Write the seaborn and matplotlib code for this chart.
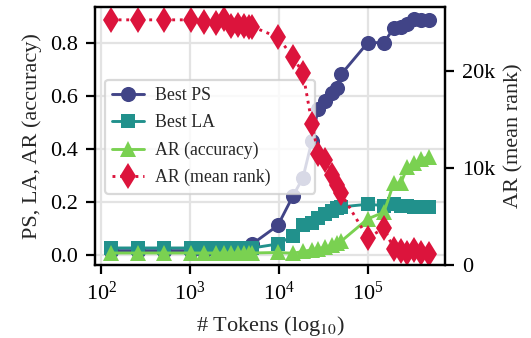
import numpy as np
import pandas as pd
import matplotlib
matplotlib.use("Agg")
import matplotlib.pyplot as plt
import seaborn as sns
from matplotlib.ticker import FuncFormatter, MultipleLocator, NullLocator

# ---------------- data ----------------
tokens = [128, 256, 512, 1024, 1430, 1950, 2400, 2880, 3470, 4060, 4600, 5000,
          9700, 14300, 18600, 23500, 27500, 33000, 39600, 45000, 50000,
          100000, 152000, 196000, 235000, 280000, 328000, 396000, 490000]

best_ps = [0.015, 0.015, 0.015, 0.015, 0.015, 0.015, 0.015, 0.015, 0.015, 0.015, 0.02, 0.04,
           0.11, 0.22, 0.29, 0.43, 0.55, 0.58, 0.61, 0.63, 0.68,
           0.80, 0.80, 0.855, 0.86, 0.87, 0.89, 0.887, 0.887]

best_la = [0.025, 0.025, 0.025, 0.025, 0.025, 0.025, 0.025, 0.025, 0.025, 0.025, 0.025, 0.025,
           0.04, 0.07, 0.11, 0.12, 0.14, 0.155, 0.165, 0.175, 0.18,
           0.19, 0.185, 0.19, 0.185, 0.185, 0.18, 0.18, 0.18]

ar_acc = [0.006, 0.006, 0.006, 0.006, 0.006, 0.006, 0.006, 0.006, 0.006, 0.006, 0.006, 0.006,
          0.008, 0.005, 0.012, 0.018, 0.022, 0.028, 0.035, 0.042, 0.05,
          0.135, 0.16, 0.27, 0.27, 0.33, 0.345, 0.36, 0.37]

ar_rank = [25300, 25300, 25300, 25300, 25100, 25000, 25400, 24700, 24800, 24700, 24600, 24600,
           23500, 21500, 19800, 14600, 11500, 10800, 9300, 8300, 7400,
           2800, 3800, 1700, 1400, 1200, 1500, 1200, 1100]

labels = ["Best PS", "Best LA", "AR (accuracy)", "AR (mean rank)"]
colors = ["#414487", "#21918c", "#7ad151", "#dc143c"]

# ---------------- style ----------------
sns.set_theme(style="whitegrid")
plt.rcParams.update({
    "font.family": ["Liberation Serif", "DejaVu Serif"],
    "mathtext.fontset": "stix",
    "font.size": 10,
    "axes.labelsize": 10,
    "xtick.labelsize": 10,
    "ytick.labelsize": 10,
    "axes.edgecolor": "black",
    "axes.linewidth": 1.0,
    "xtick.bottom": True,
    "ytick.left": True,
    "xtick.direction": "out",
    "ytick.direction": "out",
    "xtick.major.size": 4,
    "ytick.major.size": 4,
    "xtick.major.width": 1.0,
    "ytick.major.width": 1.0,
    "xtick.color": "black",
    "ytick.color": "black",
    "grid.color": "#e3e3e3",
    "grid.linewidth": 1.0,
})

df = pd.DataFrame({"tokens": tokens, "ps": best_ps, "la": best_la,
                   "acc": ar_acc, "rank": ar_rank})

fig = plt.figure(figsize=(531 / 160, 338 / 160), dpi=160)
ax = fig.add_axes([0.179, 0.216, 0.659, 0.763])

common = dict(estimator=None, sort=False, lw=1.3)
sns.lineplot(data=df, x="tokens", y="ps", ax=ax, color=colors[0], marker="o",
             markersize=6.8, mec=colors[0], mew=0, label=labels[0], **common)
sns.lineplot(data=df, x="tokens", y="la", ax=ax, color=colors[1], marker="s",
             markersize=6.2, mec=colors[1], mew=0, label=labels[1], **common)
sns.lineplot(data=df, x="tokens", y="acc", ax=ax, color=colors[2], marker="^",
             markersize=7.0, mec=colors[2], mew=0, label=labels[2], **common)
ax.set_xscale("log")
ax.xaxis.set_minor_locator(NullLocator())
ax.set_xlabel("# Tokens (log$_{10}$)")
ax.set_ylabel("PS, LA, AR (accuracy)")
ax.yaxis.set_major_locator(MultipleLocator(0.2))
ax.yaxis.set_major_formatter(FuncFormatter(lambda v, p: f"{v:.1f}"))

ax2 = ax.twinx()
sns.lineplot(data=df, x="tokens", y="rank", ax=ax2, color=colors[3], marker="d",
             markersize=8.2, mec=colors[3], mew=0, linestyle=":", label=labels[3],
             **common)
ax2.grid(False)
ax2.set_ylim(bottom=0)
ax2.yaxis.set_major_locator(MultipleLocator(10000))
ax2.yaxis.set_major_formatter(
    FuncFormatter(lambda v, p: "0" if v == 0 else f"{int(round(v / 1000))}k"))
ax2.set_ylabel("AR (mean rank)")
ax2.tick_params(axis="y", right=True, direction="out", length=4, width=1.0)
for s in ax2.spines.values():
    s.set_color("black")
    s.set_linewidth(1.0)

h1, l1 = ax.get_legend_handles_labels()
h2, l2 = ax2.get_legend_handles_labels()
if ax2.get_legend() is not None:
    ax2.get_legend().remove()
ax.legend(h1 + h2, l1 + l2, loc="upper left",
          bbox_to_anchor=(0.029, 0.30, 0.60, 0.418), mode="expand",
          borderaxespad=0, fontsize=8, frameon=True, framealpha=0.8,
          edgecolor="#d0d0d0", fancybox=True, labelspacing=0.58,
          handlelength=1.8, handletextpad=0.6)

fig.savefig("out.png", dpi=160)
